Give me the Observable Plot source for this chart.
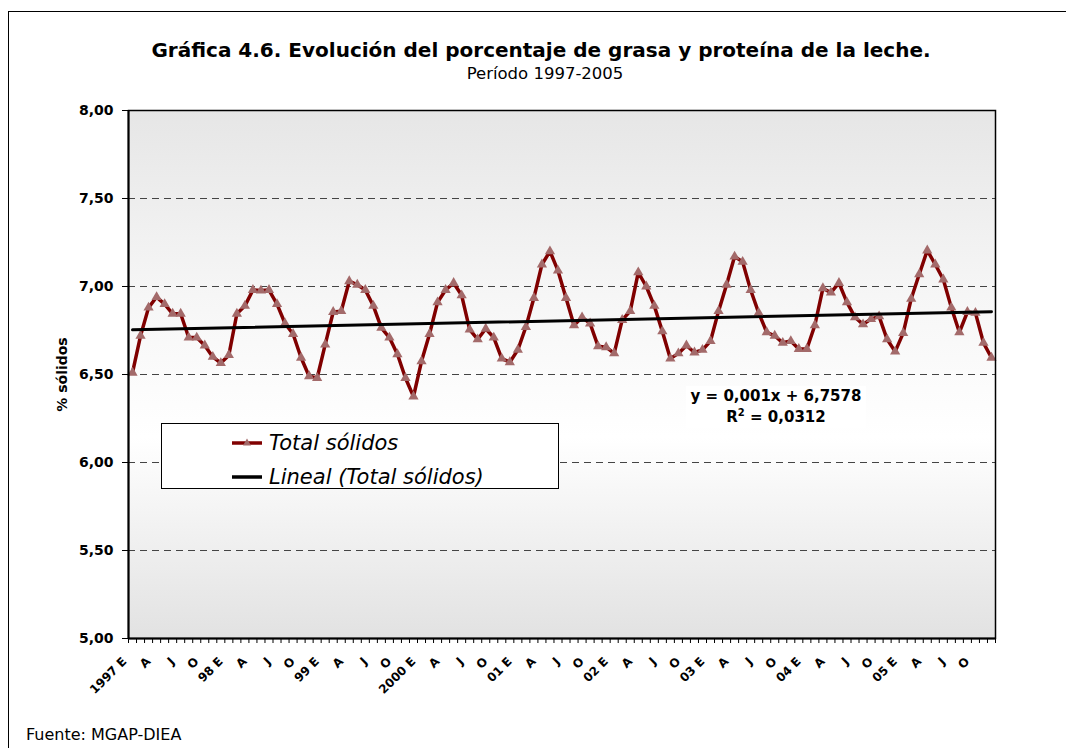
<!DOCTYPE html>
<html><head><meta charset="utf-8">
<script src="https://cdn.jsdelivr.net/npm/d3@7"></script>
<script src="https://cdn.jsdelivr.net/npm/@observablehq/plot@0.6"></script>
<style>
body{margin:0;background:#fff;font-family:"DejaVu Sans",Verdana,sans-serif;}
#wrap{position:relative;width:1066px;height:748px;overflow:hidden;background:#fff;}
#frame{position:absolute;left:8px;top:11px;width:1080px;height:760px;border:1.5px solid #000;box-sizing:border-box;}
#title{position:absolute;top:38px;left:0;width:1082px;text-align:center;font-weight:bold;font-size:20px;line-height:24px;color:#000;}
#subtitle{position:absolute;top:64px;left:0;width:1090px;text-align:center;font-size:16.5px;line-height:20px;color:#000;}
#bg{position:absolute;left:128px;top:110px;width:867px;height:528px;background:linear-gradient(to bottom,#e6e6e6 0%,#f6f6f6 35%,#ffffff 62%,#f1f1f1 80%,#e2e2e2 100%);}
#chart{position:absolute;left:0;top:90px;}
#legend{position:absolute;left:161px;top:423px;width:398px;height:66px;border:1px solid #000;background:#fff;box-sizing:border-box;font-style:italic;font-size:21px;}
.lrow{position:absolute;left:69px;height:26px;display:flex;align-items:center;}
.lrow svg{margin-right:6px;}
#eq{position:absolute;left:686px;top:386px;width:180px;height:42px;background:#fff;text-align:center;font-weight:bold;font-size:15px;line-height:21px;}
#eq sup{font-size:10px;line-height:0;}
#source{position:absolute;left:26px;top:725px;font-size:16px;line-height:20px;}
</style></head>
<body>
<div id="wrap">
  <div id="frame"></div>
  <div id="title">Gráfica 4.6. Evolución del porcentaje de grasa y proteína de la leche.</div>
  <div id="subtitle">Período 1997-2005</div>
  <div id="bg"></div>
  <div id="chart"></div>
  <div id="legend">
    <div class="lrow" style="top:6px"><svg width="32" height="12"><line x1="1" y1="6" x2="31" y2="6" stroke="#800000" stroke-width="3.5"/><path d="M16,1.5 L20,8.5 L12,8.5 Z" fill="#a36a6a"/></svg><span>Total sólidos</span></div>
    <div class="lrow" style="top:40px"><svg width="32" height="12"><line x1="1" y1="6" x2="31" y2="6" stroke="#000" stroke-width="3.5"/></svg><span>Lineal (Total sólidos)</span></div>
  </div>
  <div id="eq">y = 0,001x + 6,7578<br>R<sup>2</sup> = 0,0312</div>
  <div id="source">Fuente: MGAP-DIEA</div>
</div>
<script>
// Monthly total solids (%), Jan 1997 – Dec 2005
const totalSolidos = [
  6.51, 6.72, 6.88, 6.94, 6.90, 6.845, 6.845, 6.71, 6.71, 6.665, 6.60, 6.565,
  6.61, 6.845, 6.89, 6.98, 6.977, 6.98, 6.90, 6.79, 6.73, 6.595, 6.49, 6.48,
  6.67, 6.855, 6.86, 7.03, 7.01, 6.98, 6.89, 6.765, 6.71, 6.615, 6.48, 6.375,
  6.575, 6.73, 6.91, 6.98, 7.02, 6.95, 6.755, 6.70, 6.76, 6.71, 6.59, 6.57,
  6.64, 6.77, 6.935, 7.125, 7.20, 7.09, 6.935, 6.78, 6.825, 6.79, 6.66, 6.655,
  6.62, 6.81, 6.86, 7.08, 7.00, 6.89, 6.745, 6.59, 6.62, 6.665, 6.625, 6.64,
  6.69, 6.86, 7.01, 7.17, 7.14, 6.98, 6.85, 6.74, 6.72, 6.68, 6.69, 6.645,
  6.645, 6.78, 6.99, 6.965, 7.02, 6.91, 6.825, 6.785, 6.815, 6.83, 6.70, 6.63,
  6.735, 6.93, 7.07, 7.205, 7.125, 7.04, 6.88, 6.74, 6.855, 6.85, 6.68, 6.595
];
const yearLabels = ["1997", "98", "99", "2000", "01", "02", "03", "04", "05"];
const quarterLetters = ["E", "A", "J", "O"];
const yTicks = [5, 5.5, 6, 6.5, 7, 7.5, 8];
const gridValues = [5.5, 6, 6.5, 7, 7.5];

const data = totalSolidos.map((v, i) => ({i, v}));
const xLabels = [];
yearLabels.forEach((y, yi) => quarterLetters.forEach((q, qi) => {
  xLabels.push({i: yi * 12 + qi * 3, t: qi === 0 ? y + " " + q : q});
}));
const boundaries = d3.range(0, totalSolidos.length + 1).map(d => d - 0.5);
const fmt = d => d3.format(".2f")(d).replace(".", ",");

const chart = Plot.plot({
  width: 1066,
  height: 600,
  marginLeft: 128,
  marginRight: 71,
  marginTop: 20,
  marginBottom: 52,
  style: {background: "transparent", fontFamily: "'DejaVu Sans', Verdana, sans-serif", color: "#000", overflow: "visible"},
  x: {domain: [-0.5, totalSolidos.length - 0.5], axis: null},
  y: {domain: [5, 8], axis: null},
  marks: [
    Plot.ruleY(gridValues, {stroke: "#444", strokeWidth: 1, strokeDasharray: "7,5"}),
    Plot.line(data, {x: "i", y: "v", stroke: "#800000", strokeWidth: 3.5, strokeLinejoin: "round"}),
    Plot.dot(data, {x: "i", y: "v", symbol: "triangle", r: 3.8, fill: "#a36a6a", stroke: "none"}),
    Plot.linearRegressionY(data, {x: "i", y: "v", stroke: "#000", strokeWidth: 3, ci: 0}),
    Plot.frame({stroke: "#000", strokeWidth: 1.5}),
    Plot.ruleX([-0.5], {stroke: "#000", strokeWidth: 2}),
    Plot.ruleY([5], {stroke: "#000", strokeWidth: 2}),
    Plot.axisY({ticks: yTicks, tickFormat: fmt, tickSize: 6, tickPadding: 9, fontWeight: "bold", fontSize: 14, label: null}),
    Plot.axisX({ticks: boundaries, tickFormat: () => "", tickSize: 5, label: null}),
    Plot.text(xLabels, {x: "i", y: () => 5, text: "t", rotate: -45, textAnchor: "end", dx: -8, dy: 21, fontWeight: "bold", fontSize: 12}),
    Plot.text(["% sólidos"], {frameAnchor: "left", text: d => d, rotate: -90, textAnchor: "middle", dx: -66, fontWeight: "bold", fontSize: 14})
  ]
});
document.getElementById("chart").appendChild(chart);
</script>
</body></html>
